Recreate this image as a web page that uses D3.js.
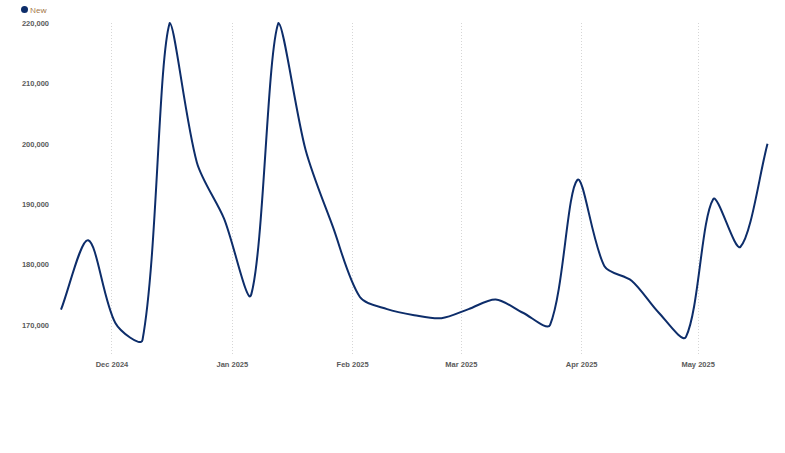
<!DOCTYPE html>
<html><head><meta charset="utf-8">
<script src="https://cdn.jsdelivr.net/npm/d3@7"></script>
<style>
html,body{margin:0;padding:0;background:#fff;}
svg{display:block;font-family:"Open Sans","Noto Sans",sans-serif;}
</style></head>
<body>
<svg id="chart" width="785" height="453"></svg>
<script>
const seriesName = "New";
const dates = ["2024-11-18","2024-11-25","2024-12-02","2024-12-09","2024-12-16","2024-12-23","2024-12-30",
  "2025-01-06","2025-01-13","2025-01-20","2025-01-27","2025-02-03","2025-02-10","2025-02-17","2025-02-24",
  "2025-03-03","2025-03-10","2025-03-17","2025-03-24","2025-03-31","2025-04-07","2025-04-14","2025-04-21",
  "2025-04-28","2025-05-05","2025-05-12","2025-05-19"];
const values = [172500,184000,170300,167500,220000,196900,187600,175000,220000,199000,186300,174600,172600,171600,
  171100,172600,174200,172000,170000,194000,179700,177300,172000,168000,190800,182900,200000];
const yTicks = [170000,180000,190000,200000,210000,220000];
const xTicks = ["2024-12-01","2025-01-01","2025-02-01","2025-03-01","2025-04-01","2025-05-01"];

const parse = d3.utcParse("%Y-%m-%d");
const svg = d3.select("#chart");
const area = {left: 61, right: 767.5, top: 23, bottom: 355};

const x = d3.scaleUtc().domain([parse(dates[0]), parse(dates[dates.length-1])]).range([area.left, area.right]);
const y = d3.scaleLinear().domain([165000, 220000]).range([area.bottom, area.top]);

const xAxis = d3.axisBottom(x).tickValues(xTicks.map(parse)).tickFormat(d3.utcFormat("%b %Y")).tickSize(0).tickPadding(7);
const gx = svg.append("g").attr("transform", `translate(0,${area.bottom})`).call(xAxis);
gx.select(".domain").remove();
gx.selectAll("text").attr("fill", "#5a5a5a").attr("font-size", 7.5).attr("font-weight", "bold");

svg.append("g").selectAll("line").data(xTicks.map(parse)).join("line")
  .attr("x1", d => Math.round(x(d)) + 0.5).attr("x2", d => Math.round(x(d)) + 0.5)
  .attr("y1", area.top).attr("y2", area.bottom)
  .attr("stroke", "#d6d6d6").attr("stroke-width", 1).attr("stroke-dasharray", "1,2");

const yAxis = d3.axisLeft(y).tickValues(yTicks).tickFormat(d3.format(",")).tickSize(0).tickPadding(12);
const gy = svg.append("g").attr("transform", `translate(${area.left},0)`).call(yAxis);
gy.select(".domain").remove();
gy.selectAll("text").attr("fill", "#5a5a5a").attr("font-size", 7.5).attr("font-weight", "bold");

// Chart.js-like spline with control points capped to chart area
const pts = dates.map((d, i) => ({x: x(parse(d)), y: y(values[i])}));
const t = 0.3;
const cap = (v, lo, hi) => Math.max(Math.min(v, hi), lo);
pts.forEach((cur, i) => {
  const prev = i === 0 ? cur : pts[i-1];
  const next = i === pts.length - 1 ? cur : pts[i+1];
  const d01 = Math.hypot(cur.x - prev.x, cur.y - prev.y);
  const d12 = Math.hypot(next.x - cur.x, next.y - cur.y);
  let s01 = d01 / (d01 + d12), s12 = d12 / (d01 + d12);
  if (isNaN(s01)) s01 = 0; if (isNaN(s12)) s12 = 0;
  const fa = t * s01, fb = t * s12;
  cur.cpPrev = {x: cap(cur.x - fa * (next.x - prev.x), area.left, area.right), y: cap(cur.y - fa * (next.y - prev.y), area.top, area.bottom)};
  cur.cpNext = {x: cap(cur.x + fb * (next.x - prev.x), area.left, area.right), y: cap(cur.y + fb * (next.y - prev.y), area.top, area.bottom)};
});
const p = d3.path();
p.moveTo(pts[0].x, pts[0].y);
for (let i = 1; i < pts.length; i++) {
  const a = pts[i-1], b = pts[i];
  p.bezierCurveTo(a.cpNext.x, a.cpNext.y, b.cpPrev.x, b.cpPrev.y, b.x, b.y);
}
svg.append("path").attr("d", p.toString()).attr("fill", "none")
  .attr("stroke", "#0d2d6a").attr("stroke-width", 2).attr("stroke-linejoin", "round");

svg.append("circle").attr("cx", 24.5).attr("cy", 9.5).attr("r", 3.5).attr("fill", "#0d2d6a");
svg.append("text").attr("x", 30).attr("y", 12.5).attr("font-size", 8).attr("fill", "#a0703c").text(seriesName);
</script>
</body></html>
